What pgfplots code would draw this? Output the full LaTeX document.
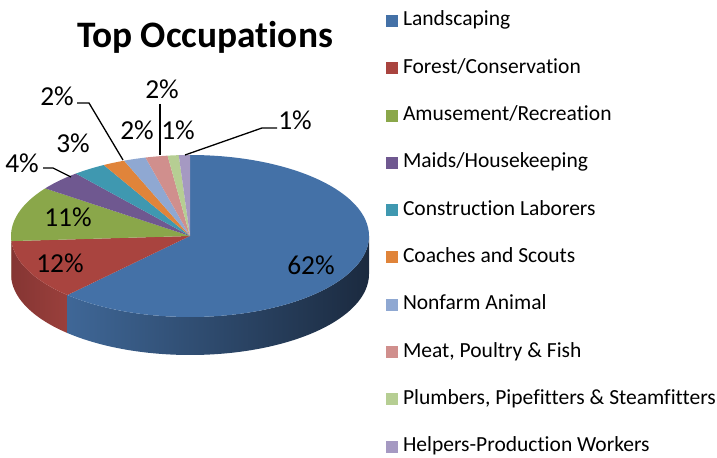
\documentclass[border=0pt]{standalone}
\usepackage{pgfplots}
\pgfplotsset{compat=1.18}
\usepackage{fontspec}
\setmainfont{Carlito}[Ligatures=NoCommon]
\definecolor{c1}{HTML}{4471A7}
\definecolor{c2}{HTML}{A9443F}
\definecolor{c3}{HTML}{8AA74A}
\definecolor{c4}{HTML}{6F5890}
\definecolor{c5}{HTML}{3F98B0}
\definecolor{c6}{HTML}{E0843A}
\definecolor{c7}{HTML}{8FA8D2}
\definecolor{c8}{HTML}{D08F8D}
\definecolor{c9}{HTML}{B6CE93}
\definecolor{c10}{HTML}{A599C2}
\definecolor{s1l}{HTML}{3F6797}
\definecolor{s1r}{HTML}{1B2A3F}
\definecolor{s2l}{HTML}{853533}
\definecolor{s2r}{HTML}{9A403C}
\definecolor{s3}{HTML}{6E8A3A}
\newcommand\topslice[3]{\fill[#3] (190,222) -- ({190+179*cos(#1)},{222+81*sin(#1)}) arc[start angle=#1, end angle=#2, x radius=179bp, y radius=81bp] -- cycle;}
\newcommand\sideslice[3]{\shade[#3] ({190+179*cos(#1)},{222+81*sin(#1)}) arc[start angle=#1, end angle=#2, x radius=179bp, y radius=81bp] -- ++(0bp,-38bp) arc[start angle=#2, end angle=#1, x radius=179bp, y radius=81bp] -- cycle;}
\begin{document}
\begin{tikzpicture}
% shares in percent: Landscaping, Forest, Amusement, Maids, Construction, Coaches, Nonfarm, Meat, Plumbers, Helpers
\pgfmathsetmacro\aA{90}
\pgfmathsetmacro\aB{\aA-62*3.6}
\pgfmathsetmacro\aC{\aB-12*3.6}
\pgfmathsetmacro\aD{\aC-11*3.6}
\pgfmathsetmacro\aE{\aD-4*3.6}
\pgfmathsetmacro\aF{\aE-3*3.6}
\pgfmathsetmacro\aG{\aF-2*3.6}
\pgfmathsetmacro\aH{\aG-2*3.6}
\pgfmathsetmacro\aI{\aH-2*3.6}
\pgfmathsetmacro\aJ{\aI-1*3.6}
\pgfmathsetmacro\aK{\aJ-1*3.6}
\begin{axis}[
  name=ax,
  scale only axis, width=717bp, height=458bp,
  xmin=0, xmax=717, ymin=0, ymax=458,
  hide axis, clip=false,
  legend style={at={(386/717,1-11/458)}, anchor=north west, draw=none, fill=none,
    inner sep=0pt, outer sep=0pt, row sep=27.3bp,
    font=\fontsize{21.6}{24}\selectfont,
    nodes={inner sep=0pt, text height=15bp, text depth=5bp}},
  legend cell align=left,
  legend image code/.code={\fill[#1] (0bp,-6bp) rectangle (12bp,6bp); \path (17bp,0bp);},
]
\addlegendimage{fill=c1,draw=none}\addlegendentry{Landscaping}
\addlegendimage{fill=c2,draw=none}\addlegendentry{Forest/Conservation}
\addlegendimage{fill=c3,draw=none}\addlegendentry{Amusement/Recreation}
\addlegendimage{fill=c4,draw=none}\addlegendentry{Maids/Housekeeping}
\addlegendimage{fill=c5,draw=none}\addlegendentry{Construction Laborers}
\addlegendimage{fill=c6,draw=none}\addlegendentry{Coaches and Scouts}
\addlegendimage{fill=c7,draw=none}\addlegendentry{Nonfarm Animal}
\addlegendimage{fill=c8,draw=none}\addlegendentry{Meat, Poultry \& Fish}
\addlegendimage{fill=c9,draw=none}\addlegendentry{Plumbers, Pipefitters \& Steamfitters}
\addlegendimage{fill=c10,draw=none}\addlegendentry{Helpers-Production Workers}
% side walls
\sideslice{-180}{\aC}{left color=s3, right color=s3}
\sideslice{\aC}{\aB}{left color=s2l, right color=s2r}
\sideslice{\aB}{0}{left color=s1l, right color=s1r}
% top faces
\topslice{\aA}{\aB}{c1}
\topslice{\aB}{\aC}{c2}
\topslice{\aC}{\aD}{c3}
\topslice{\aD}{\aE}{c4}
\topslice{\aE}{\aF}{c5}
\topslice{\aF}{\aG}{c6}
\topslice{\aG}{\aH}{c7}
\topslice{\aH}{\aI}{c8}
\topslice{\aI}{\aJ}{c9}
\topslice{\aJ}{\aK}{c10}
% leader lines
\draw[black, line width=1.3bp] (77,355) -- (89,355) -- (123,298);
\draw[black, line width=1.3bp] (160,354) -- (160,303);
\draw[black, line width=1.3bp] (185,303) -- (262,330) -- (277,330);
\draw[black, line width=1.3bp] (43,290) -- (53,290) -- (71,281);
% labels
\begin{scope}[every node/.style={inner sep=0pt, font=\fontsize{27.5}{30}\selectfont}]
\node at (311,193) {62\%};
\node at (60,195) {12\%};
\node at (68,241) {11\%};
\node at (22,295) {4\%};
\node at (73,315) {3\%};
\node at (57,362) {2\%};
\node at (137,328) {2\%};
\node at (162,369) {2\%};
\node at (178,328) {1\%};
\node at (295,338) {1\%};
\end{scope}
\node[anchor=base, inner sep=0pt, font=\bfseries\fontsize{37.5}{42}\selectfont] at (205,410) {Top Occupations};
\end{axis}
\pgfresetboundingbox
\path[use as bounding box] (ax.south west) rectangle (ax.north east);
\end{tikzpicture}
\end{document}
